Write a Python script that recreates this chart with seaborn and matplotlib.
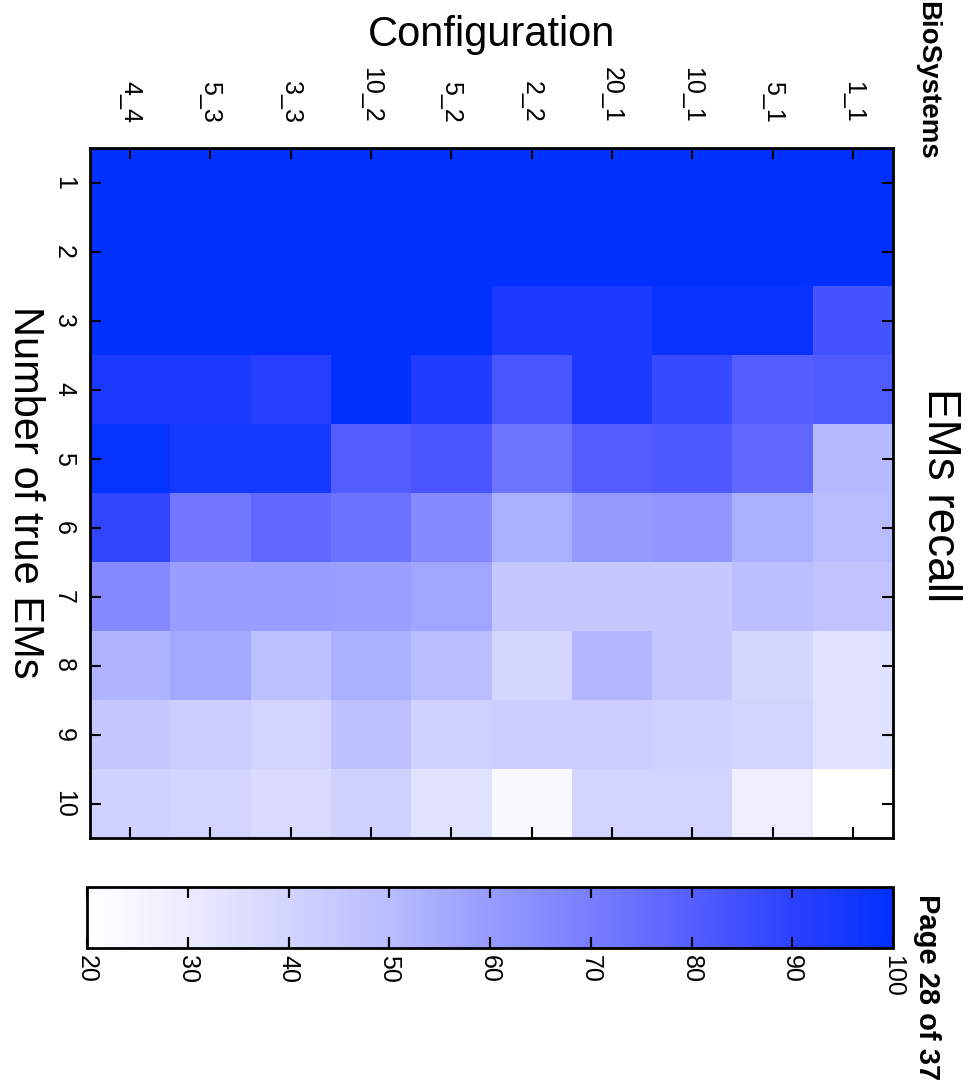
import numpy as np
import pandas as pd
import matplotlib
matplotlib.use("Agg")
import matplotlib.pyplot as plt
import seaborn as sns
from matplotlib.colors import LinearSegmentedColormap

# ---------------- data ----------------
true_ems = [1, 2, 3, 4, 5, 6, 7, 8, 9, 10]
configs = ["1_1", "5_1", "10_1", "20_1", "2_2", "5_2", "10_2", "3_3", "5_3", "4_4"]

recall_1_1 = [100, 100, 84, 81, 51, 50, 47, 34, 34, 20]
recall_5_1 = [100, 100, 98, 80, 77, 54, 49, 39, 40, 28.5]
recall_10_1 = [100, 100, 98, 87, 82, 62, 45, 45, 41, 40]
recall_20_1 = [100, 100, 94, 94, 80.5, 60.5, 45, 52, 42, 40]
recall_2_2 = [100, 100, 94, 83, 73, 54, 45, 39, 42, 23]
recall_5_2 = [100, 100, 100, 93, 83, 66, 57, 50, 41, 34]
recall_10_2 = [100, 100, 100, 100, 80, 74, 59, 54, 48, 41]
recall_3_3 = [100, 100, 100, 91, 95, 77, 59.5, 48, 40, 37]
recall_5_3 = [100, 100, 100, 94, 95, 72, 59.5, 56, 43, 40]
recall_4_4 = [100, 100, 100, 94, 99, 89, 66, 52.5, 45, 41]

cbar_ticks = [20, 30, 40, 50, 60, 70, 80, 90, 100]

table = pd.DataFrame(
    {
        "1_1": recall_1_1, "5_1": recall_5_1, "10_1": recall_10_1,
        "20_1": recall_20_1, "2_2": recall_2_2, "5_2": recall_5_2,
        "10_2": recall_10_2, "3_3": recall_3_3, "5_3": recall_5_3,
        "4_4": recall_4_4,
    },
    index=true_ems,
)
# page is shown rotated: configurations run right-to-left
table = table[configs[::-1]]

# ---------------- style ----------------
sns.set_style("white")
plt.rcParams["font.family"] = ["Liberation Sans", "DejaVu Sans"]
plt.rcParams["text.color"] = "black"
plt.rcParams["axes.labelcolor"] = "black"
plt.rcParams["xtick.color"] = "black"
plt.rcParams["ytick.color"] = "black"
plt.rcParams["axes.axisbelow"] = False

cmap = LinearSegmentedColormap.from_list(
    "recall",
    [
        (0.0, (1.0, 1.0, 1.0)),
        (0.125, (235 / 255, 235 / 255, 1.0)),
        (0.25, (210 / 255, 211 / 255, 1.0)),
        (0.375, (185 / 255, 188 / 255, 1.0)),
        (0.5, (150 / 255, 155 / 255, 1.0)),
        (0.625, (120 / 255, 126 / 255, 1.0)),
        (0.75, (85 / 255, 95 / 255, 1.0)),
        (0.875, (45 / 255, 65 / 255, 1.0)),
        (1.0, (0.0, 48 / 255, 1.0)),
    ],
)

W, H = 972, 1083
fig = plt.figure(figsize=(W / 100, H / 100), dpi=100)
ax = fig.add_axes([90 / W, 1 - 838 / H, 803 / W, 690 / H])
cax = fig.add_axes([87 / W, 1 - 948 / H, 806 / W, 61 / H])

sns.heatmap(
    table, ax=ax, cbar_ax=cax, cmap=cmap, vmin=20, vmax=100,
    cbar_kws={"orientation": "horizontal", "ticks": cbar_ticks},
)

# colorbar: inward ticks on both long edges, rotated labels below
cb = ax.collections[0].colorbar
cb.ax.tick_params(axis="x", which="major", direction="in", length=8, width=1.5,
                  color="black", top=True, bottom=True, labelsize=18, pad=5,
                  labelrotation=-90)
cb.outline.set_linewidth(2)
cb.outline.set_edgecolor("black")
for lab in cb.ax.get_xticklabels():
    lab.set_va("top")
    lab.set_ha("center")
# make sure the inward tick marks are drawn above the colour gradient
inner_ticks = cbar_ticks[1:-1]
cb.ax.plot(inner_ticks, [0] * len(inner_ticks), ls="none", marker=2,
           markersize=8, markeredgewidth=1.5, color="black",
           transform=cb.ax.get_xaxis_transform(), clip_on=False, zorder=10)
cb.ax.plot(inner_ticks, [1] * len(inner_ticks), ls="none", marker=3,
           markersize=8, markeredgewidth=1.5, color="black",
           transform=cb.ax.get_xaxis_transform(), clip_on=False, zorder=10)
cb.ax.set_xlim(cbar_ticks[0], cbar_ticks[-1])
cb.ax.set_ylim(0, 1)

# heatmap axes
ax.set_axisbelow(False)
ax.set_xlabel("")
ax.set_ylabel("")
ax.xaxis.tick_top()
ax.tick_params(axis="both", direction="in", length=8, width=1.5, color="black",
               labelcolor="black",
               top=True, bottom=True, left=True, right=True,
               labeltop=True, labelbottom=False, labelleft=True, labelright=False,
               labelsize=18)
ax.tick_params(axis="x", pad=18)
ax.tick_params(axis="y", pad=10)
plt.setp(ax.get_xticklabels(), rotation=-90, ha="center", va="bottom")
plt.setp(ax.get_yticklabels(), rotation=-90, ha="right", va="center")
for s in ax.spines.values():
    s.set_visible(True)
    s.set_linewidth(2)
    s.set_color("black")
    s.set_zorder(5)

fig.text(492 / W, 1 - 35 / H, "Configuration", ha="center", va="center", fontsize=30)
fig.text(940 / W, 1 - 495 / H, "EMs recall", ha="center", va="center",
         rotation=-90, fontsize=33)
fig.text(25 / W, 1 - 492 / H, "Number of true EMs", ha="center", va="center",
         rotation=-90, fontsize=30)
fig.text(927 / W, 1 - 1 / H, "BioSystems", ha="center", va="top",
         rotation=-90, fontsize=20, fontweight="bold")
fig.text(927 / W, 3 / H, "Page 28 of 37", ha="center", va="bottom",
         rotation=-90, fontsize=21, fontweight="bold")

fig.savefig("out.png", dpi=100)
